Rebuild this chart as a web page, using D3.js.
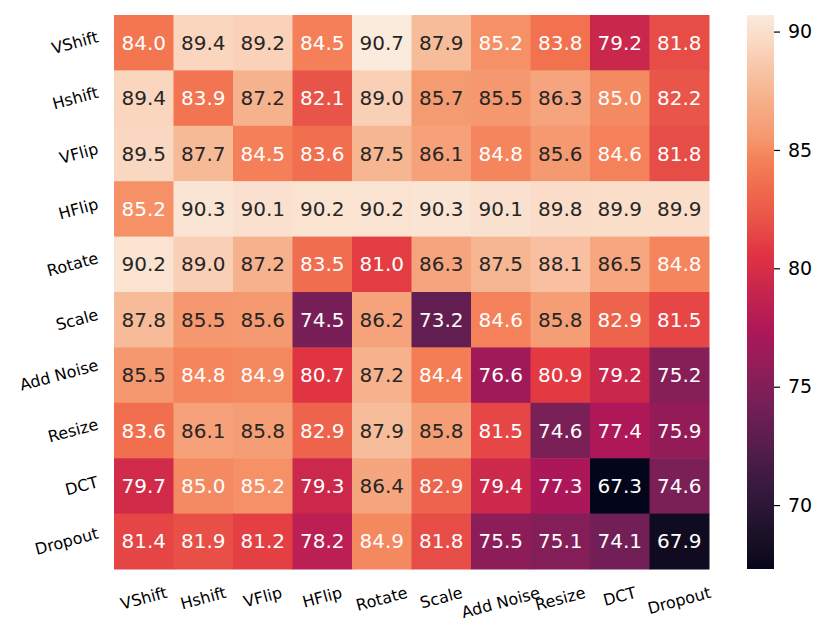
<!DOCTYPE html>
<html>
<head>
<meta charset="utf-8">
<script src="https://cdn.jsdelivr.net/npm/d3@7"></script>
<style>
  body { margin: 0; background: #fff; }
  text { font-family: "DejaVu Sans", sans-serif; }
</style>
</head>
<body>
<div id="chart"></div>
<script>
// augmentations on both axes
const rowLabels = ["VShift", "Hshift", "VFlip", "HFlip", "Rotate", "Scale", "Add Noise", "Resize", "DCT", "Dropout"]
const colLabels = ["VShift", "Hshift", "VFlip", "HFlip", "Rotate", "Scale", "Add Noise", "Resize", "DCT", "Dropout"]

// one row per train augmentation
const scores = [
  [84.0, 89.4, 89.2, 84.5, 90.7, 87.9, 85.2, 83.8, 79.2, 81.8],
  [89.4, 83.9, 87.2, 82.1, 89.0, 85.7, 85.5, 86.3, 85.0, 82.2],
  [89.5, 87.7, 84.5, 83.6, 87.5, 86.1, 84.8, 85.6, 84.6, 81.8],
  [85.2, 90.3, 90.1, 90.2, 90.2, 90.3, 90.1, 89.8, 89.9, 89.9],
  [90.2, 89.0, 87.2, 83.5, 81.0, 86.3, 87.5, 88.1, 86.5, 84.8],
  [87.8, 85.5, 85.6, 74.5, 86.2, 73.2, 84.6, 85.8, 82.9, 81.5],
  [85.5, 84.8, 84.9, 80.7, 87.2, 84.4, 76.6, 80.9, 79.2, 75.2],
  [83.6, 86.1, 85.8, 82.9, 87.9, 85.8, 81.5, 74.6, 77.4, 75.9],
  [79.7, 85.0, 85.2, 79.3, 86.4, 82.9, 79.4, 77.3, 67.3, 74.6],
  [81.4, 81.9, 81.2, 78.2, 84.9, 81.8, 75.5, 75.1, 74.1, 67.9]
]

const cbarTicks = [70, 75, 80, 85, 90]

// approximation of seaborn "rocket" (6-colour palette sits at k/7,
// two extra stops in the salmon range)
const rocketStops = [
  [0.0, "#03051a"], [1 / 7, "#35193e"], [2 / 7, "#701f57"], [3 / 7, "#ad1759"],
  [4 / 7, "#e13342"], [5 / 7, "#f37651"], [0.748, "#f4855c"], [0.778, "#f5986f"],
  [6 / 7, "#f6b48f"], [1.0, "#faebdd"]
]
const rocket = d3.scaleLinear()
  .domain(rocketStops.map(d => d[0]))
  .range(rocketStops.map(d => d[1]))
  .interpolate(d3.interpolateLab)
  .clamp(true)

const width = 830
const height = 640
const hm = { left: 114, right: 709, top: 15, bottom: 569 }
const cb = { left: 747, right: 774 }

const allVals = scores.flat()
const vmin = d3.min(allVals)
const vmax = d3.max(allVals)
const norm = d3.scaleLinear().domain([vmin, vmax]).range([0, 1])
const color = v => rocket(norm(v))

function luminance(c) {
  const rgb = d3.rgb(c)
  const lin = [rgb.r, rgb.g, rgb.b].map(v => {
    v = v / 255
    return v <= 0.03928 ? v / 12.92 : Math.pow((v + 0.055) / 1.055, 2.4)
  })
  return 0.2126 * lin[0] + 0.7152 * lin[1] + 0.0722 * lin[2]
}

const svg = d3.select("#chart").append("svg")
  .attr("width", width)
  .attr("height", height)

const x = d3.scaleBand().domain(colLabels.map((d, i) => i)).range([hm.left, hm.right])
const y = d3.scaleBand().domain(rowLabels.map((d, i) => i)).range([hm.top, hm.bottom])

const cells = []
scores.forEach((row, r) => row.forEach((v, c) => cells.push({ r, c, v })))

svg.append("g")
  .selectAll("rect")
  .data(cells)
  .enter()
  .append("rect")
  .attr("x", d => x(d.c))
  .attr("y", d => y(d.r))
  .attr("width", x.bandwidth() + 0.5)
  .attr("height", y.bandwidth() + 0.5)
  .attr("fill", d => color(d.v))

svg.append("g")
  .selectAll("text")
  .data(cells)
  .enter()
  .append("text")
  .attr("x", d => x(d.c) + x.bandwidth() / 2)
  .attr("y", d => y(d.r) + y.bandwidth() / 2)
  .attr("text-anchor", "middle")
  .attr("dominant-baseline", "central")
  .attr("font-size", 20)
  .attr("fill", d => luminance(color(d.v)) > 0.408 ? "#262626" : "#ffffff")
  .text(d => d.v.toFixed(1))

// rotated tick labels, 15 degrees like the original
const angle = 15
const rad = angle * Math.PI / 180
const tickSize = 16

const xl = svg.append("g")
  .selectAll("text")
  .data(colLabels)
  .enter()
  .append("text")
  .attr("font-size", tickSize)
  .attr("text-anchor", "middle")
  .attr("dominant-baseline", "central")
  .text(d => d)
xl.each(function (d, i) {
  const w = this.getComputedTextLength()
  const h = tickSize * 1.05
  const boxH = w * Math.sin(rad) + h * Math.cos(rad)
  const cx = x(i) + x.bandwidth() / 2
  const cy = 584 + boxH / 2
  d3.select(this)
    .attr("x", cx).attr("y", cy)
    .attr("transform", `rotate(${-angle}, ${cx}, ${cy})`)
})

const yl = svg.append("g")
  .selectAll("text")
  .data(rowLabels)
  .enter()
  .append("text")
  .attr("font-size", tickSize)
  .attr("text-anchor", "middle")
  .attr("dominant-baseline", "central")
  .text(d => d)
yl.each(function (d, i) {
  const w = this.getComputedTextLength()
  const h = tickSize * 1.05
  const boxW = w * Math.cos(rad) + h * Math.sin(rad)
  const cx = 100 - boxW / 2
  const cy = y(i) + y.bandwidth() / 2
  d3.select(this)
    .attr("x", cx).attr("y", cy)
    .attr("transform", `rotate(${-angle}, ${cx}, ${cy})`)
})

// colorbar
const cbScale = d3.scaleLinear().domain([vmin, vmax]).range([hm.bottom, hm.top])
const grad = svg.append("defs")
  .append("linearGradient")
  .attr("id", "cbGrad")
  .attr("x1", 0).attr("y1", 1)
  .attr("x2", 0).attr("y2", 0)
grad.selectAll("stop")
  .data(d3.range(0, 1.0001, 0.02))
  .enter()
  .append("stop")
  .attr("offset", d => d)
  .attr("stop-color", d => rocket(d))

svg.append("rect")
  .attr("x", cb.left)
  .attr("y", hm.top)
  .attr("width", cb.right - cb.left)
  .attr("height", hm.bottom - hm.top)
  .attr("fill", "url(#cbGrad)")

const cbAxis = d3.axisRight(cbScale)
  .tickValues(cbarTicks)
  .tickSize(6)
  .tickPadding(8)
const cbG = svg.append("g")
  .attr("transform", `translate(${cb.right}, 0)`)
  .call(cbAxis)
cbG.select(".domain").remove()
cbG.selectAll(".tick line").attr("stroke", "#000").attr("stroke-width", 1.2)
cbG.selectAll(".tick text")
  .attr("font-size", 19)
  .attr("font-family", "DejaVu Sans")
  .attr("fill", "#000")
</script>
</body>
</html>
